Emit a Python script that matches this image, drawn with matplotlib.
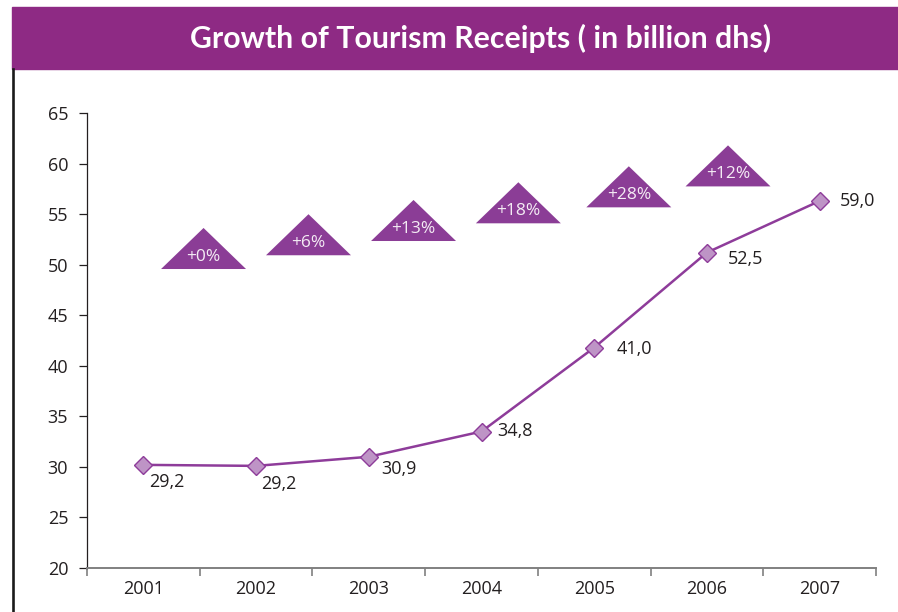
import matplotlib.pyplot as plt
from matplotlib.patches import Polygon, Rectangle
from matplotlib.lines import Line2D

# chart data
years = ['2001', '2002', '2003', '2004', '2005', '2006', '2007']
receipts = [30.2, 30.1, 31.0, 33.5, 41.8, 51.2, 56.3]
receipt_labels = ['29,2', '29,2', '30,9', '34,8', '41,0', '52,5', '59,0']
growth_labels = ['+0%', '+6%', '+13%', '+18%', '+28%', '+12%']
y_ticks = [20, 25, 30, 35, 40, 45, 50, 55, 60, 65]

# layout: where each label sits relative to its point (pixels), and badge anchors (data units)
label_offsets = [(6, -17), (5, -18), (12, -12), (16, 0), (22, -1), (21, -6), (20, 0)]
badge_x = [0.534, 1.465, 2.397, 3.327, 4.307, 5.187]
badge_base = [49.57, 50.93, 52.34, 54.09, 55.67, 57.74]
badge_w, badge_h = 0.754, 4.06

purple = '#8e2a84'
line_col = '#8e3c9a'
badge_col = '#8b3d96'
text_col = '#231f20'

plt.rcParams['font.family'] = ['Open Sans', 'DejaVu Sans']

fig = plt.figure(figsize=(8.98, 6.12), dpi=100)

# title banner + left rule
fig.patches.append(Rectangle((12 / 898, 1 - 69.3 / 612), 1 - 12 / 898, 62 / 612,
                             transform=fig.transFigure, color=purple, zorder=0))
fig.lines.append(Line2D([13 / 898, 13 / 898], [0, 1 - 69.3 / 612], transform=fig.transFigure,
                        color='#1a1a1a', lw=1.9))
fig.text(481 / 898, 1 - 38 / 612, 'Growth of Tourism Receipts ( in billion dhs)',
         color='white', fontsize=21.8, fontweight='bold', family=['Lato', 'DejaVu Sans'],
         ha='center', va='center')

ax = fig.add_axes([87 / 898, 1 - 568 / 612, 789 / 898, 455 / 612])
x = list(range(len(years)))

ax.plot(x, receipts, color=line_col, lw=1.8, marker='D', markersize=9.5,
        markerfacecolor='#be94c6', markeredgecolor=line_col, markeredgewidth=1.0, zorder=3)

for xi, yi, lab, (dx, dy) in zip(x, receipts, receipt_labels, label_offsets):
    ax.annotate(lab, (xi, yi), xytext=(dx, dy), textcoords='offset pixels',
                ha='left', va='center', fontsize=13, color=text_col)

for bx, by, g in zip(badge_x, badge_base, growth_labels):
    tri = Polygon([(bx - badge_w / 2, by), (bx + badge_w / 2, by), (bx, by + badge_h)],
                  closed=True, facecolor=badge_col, edgecolor='none', zorder=2)
    ax.add_patch(tri)
    ax.text(bx, by + badge_h * 0.3, g, ha='center', va='center', fontsize=12.5,
            color='#f4ecf4', zorder=3)

ax.set_xlim(-0.5, 6.5)
ax.set_ylim(20, 65)
ax.set_yticks(y_ticks)
ax.set_yticklabels([str(t) for t in y_ticks])
ax.set_xticks(x)
ax.set_xticklabels(years)
ax.set_xticks([i - 0.5 for i in range(len(years) + 1)], minor=True)

ax.tick_params(axis='y', direction='out', length=5.5, width=0.9, color='#231f20',
               pad=8, labelsize=13, labelcolor=text_col)
ax.tick_params(axis='x', which='major', length=0, pad=8.5, labelsize=13, labelcolor=text_col)
ax.tick_params(axis='x', which='minor', direction='out', length=6, width=1.2, color='#808080')

for side in ['top', 'right']:
    ax.spines[side].set_visible(False)
ax.spines['left'].set_color('#231f20')
ax.spines['left'].set_linewidth(0.9)
ax.spines['bottom'].set_color('#808080')
ax.spines['bottom'].set_linewidth(1.4)

fig.savefig('out.png', dpi=100)
